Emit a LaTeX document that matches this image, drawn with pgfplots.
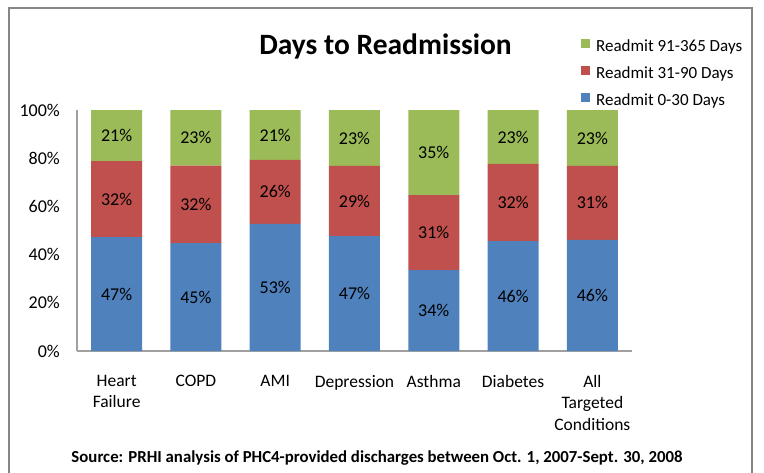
\documentclass[border=0pt]{standalone}
\usepackage{pgfplots}
\usepackage{pgfplotstable}
\pgfplotsset{compat=1.18}
\usepackage{fontspec}
\setmainfont{Carlito}
\definecolor{cgreen}{HTML}{9BBB59}
\definecolor{cred}{HTML}{C0504D}
\definecolor{cblue}{HTML}{4F81BD}
\definecolor{framegray}{HTML}{868686}
\definecolor{axisgray}{HTML}{A0A0A0}

\pgfplotstableread{
x blue red green lb lr lg
0 47.3 31.5 21.2 47 32 21
1 44.8 32.1 23.1 45 32 23
2 52.8 26.5 20.7 53 26 21
3 47.7 29.1 23.2 47 29 23
4 33.6 31.1 35.3 34 31 35
5 45.6 32.0 22.4 46 32 23
6 46.1 30.7 23.2 46 31 23
}\data

\begin{document}
\begin{tikzpicture}[x=1pt,y=1pt]
\useasboundingbox (0,0) rectangle (764,-472);
\draw[framegray, line width=1.3pt] (9,-490) -- (9,-8) -- (752,-8) -- (752,-490);
\begin{axis}[
  at={(77pt,-351pt)}, anchor=south west,
  scale only axis, width=555pt, height=241pt,
  ybar stacked, bar width=51pt,
  xmin=-0.5, xmax=6.5, ymin=0, ymax=100,
  enlargelimits=false, clip=false,
  axis lines=left, axis line style={-, axisgray, line width=1.3pt},
  major tick length=0pt,
  xtick={0,1,2,3,4,5,6},
  xticklabels={{Heart\\Failure},COPD,AMI,Depression,Asthma,Diabetes,{All\\Targeted\\Conditions}},
  xticklabel style={align=center, anchor=north, inner sep=0pt, yshift=-24pt, font=\fontsize{17.5}{21.5}\selectfont},
  ytick={0,20,40,60,80,100},
  yticklabel={\pgfmathprintnumber{\tick}\%},
  yticklabel style={anchor=east, inner sep=0pt, xshift=-17pt, font=\fontsize{18}{20}\selectfont},
  /pgf/number format/assume math mode=true,
  point meta=explicit,
  nodes near coords={\pgfmathprintnumber[fixed,precision=0]{\pgfplotspointmeta}\%},
  every node near coord/.style={anchor=center, font=\fontsize{18}{20}\selectfont, text=black},
  legend image code/.code={\fill[#1] (0pt,-1pt) rectangle (9pt,8pt);},
  reverse legend,
  legend style={at={(0.908,1.295)}, anchor=north west, draw=none, fill=none,
    font=\fontsize{17}{20}\selectfont, row sep=11pt, inner sep=0pt,
    nodes={inner sep=0pt, text height=12pt, text depth=4pt, anchor=west},
    column sep=6pt},
]
\addplot[fill=cblue, draw=none] table[x=x, y=blue, meta=lb]{\data};
\addplot[fill=cred, draw=none] table[x=x, y=red, meta=lr]{\data};
\addplot[fill=cgreen, draw=none] table[x=x, y=green, meta=lg]{\data};
\legend{Readmit 0-30 Days, Readmit 31-90 Days, Readmit 91-365 Days}
\end{axis}
\node[anchor=base, font=\fontsize{29.5}{30}\selectfont\bfseries] at (385.5,-54) {Days to Readmission};
\node[anchor=base, font=\fontsize{16.8}{18}\selectfont\bfseries] at (377,-462) {Source: PRHI analysis of PHC4-provided discharges between Oct. 1, 2007-Sept. 30, 2008};
\end{tikzpicture}
\end{document}
